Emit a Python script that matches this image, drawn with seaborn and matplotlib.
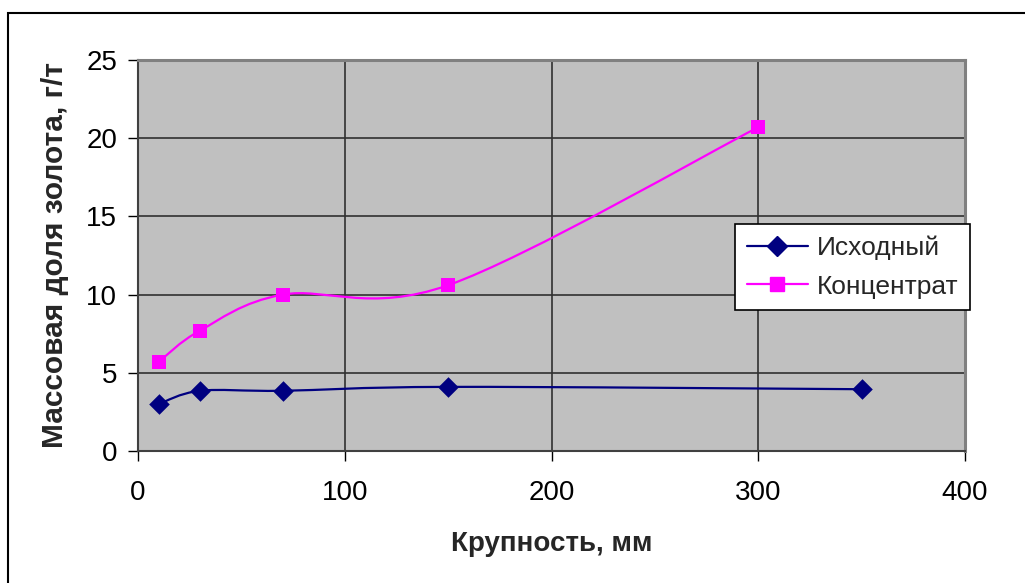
import matplotlib
matplotlib.use('Agg')
import matplotlib.pyplot as plt
import seaborn as sns
import numpy as np
import pandas as pd
from matplotlib.path import Path
from matplotlib.patches import PathPatch, Rectangle
from matplotlib.lines import Line2D

# данные
x_ish = [10, 30, 70, 150, 350]
y_ish = [3.0, 3.85, 3.85, 4.1, 3.95]
x_konc = [10, 30, 70, 150, 300]
y_konc = [5.7, 7.7, 10.0, 10.6, 20.7]
names = ['Исходный', 'Концентрат']
colors = ['#000080', '#FF00FF']
markers = ['D', 's']

sns.set_style('white')
plt.rcParams['font.family'] = ['Liberation Sans', 'DejaVu Sans']

fig = plt.figure(figsize=(10.25, 5.83), dpi=100)
ax = fig.add_axes([138 / 1025, 1 - 451 / 583, 827 / 1025, 391 / 583])
ax.set_facecolor('#C0C0C0')


def smooth_path(xs, ys):
    # сглаживание как в Excel: кривые Безье через точки
    pts = np.column_stack([xs, ys]).astype(float)
    verts = [pts[0]]
    codes = [Path.MOVETO]
    n = len(pts)
    for i in range(n - 1):
        p0 = pts[i - 1] if i > 0 else pts[i]
        p1 = pts[i]
        p2 = pts[i + 1]
        p3 = pts[i + 2] if i + 2 < n else pts[i + 1]
        c1 = p1 + (p2 - p0) / 6
        c2 = p2 - (p3 - p1) / 6
        verts += [c1, c2, p2]
        codes += [Path.CURVE4] * 3
    return Path(verts, codes)


series = [(x_ish, y_ish), (x_konc, y_konc)]
for (xs, ys), c, m, nm in zip(series, colors, markers, names):
    ax.add_patch(PathPatch(smooth_path(xs, ys), facecolor='none',
                           edgecolor=c, lw=1.6, zorder=3))
    df = pd.DataFrame({'x': xs, 'y': ys})
    sns.scatterplot(data=df, x='x', y='y', ax=ax, marker=m, color=c,
                    s=95 if m == 's' else 110, edgecolor=c, linewidth=0,
                    legend=False, zorder=4)

ax.set_xlim(0, 400)
ax.set_ylim(0, 25)
ax.set_xticks([0, 100, 200, 300, 400])
ax.set_yticks([0, 5, 10, 15, 20, 25])
ax.grid(True, color='#303030', lw=1.2)
ax.set_axisbelow(True)

for s in ['top', 'right']:
    ax.spines[s].set_color('#808080')
    ax.spines[s].set_linewidth(2.2)
for s in ['left', 'bottom']:
    ax.spines[s].set_color('#404040')
    ax.spines[s].set_linewidth(1.5)

ax.tick_params(axis='y', direction='out', length=7, width=1, colors='black',
               labelsize=20, pad=8, left=True)
ax.tick_params(axis='x', direction='out', length=7, width=1, colors='black',
               labelsize=20, pad=14, bottom=True)

ax.set_xlabel('Крупность, мм', fontsize=20, fontweight='bold', labelpad=18)
ax.set_ylabel('Массовая доля золота, г/т', fontsize=21.5, fontweight='bold',
              labelpad=12)

handles = [Line2D([0], [0], color=c, marker=m, lw=1.6, markersize=10)
           for c, m in zip(colors, markers)]
leg = ax.legend(handles, names, loc='center left',
                bbox_to_anchor=(735 / 1025, 1 - 267 / 583),
                bbox_transform=fig.transFigure, fontsize=19, frameon=True,
                fancybox=False, framealpha=1, edgecolor='black',
                handlelength=2.3, borderpad=0.45, labelspacing=0.55,
                handletextpad=0.35, borderaxespad=0)
leg.get_frame().set_linewidth(1.2)

# рамка диаграммы
fig.patches.append(Rectangle((8 / 1025, -0.1), 1.1, 1 - 13 / 583 + 0.1,
                             transform=fig.transFigure, fill=False,
                             edgecolor='black', lw=1.5))

fig.savefig('out.png', dpi=100)
